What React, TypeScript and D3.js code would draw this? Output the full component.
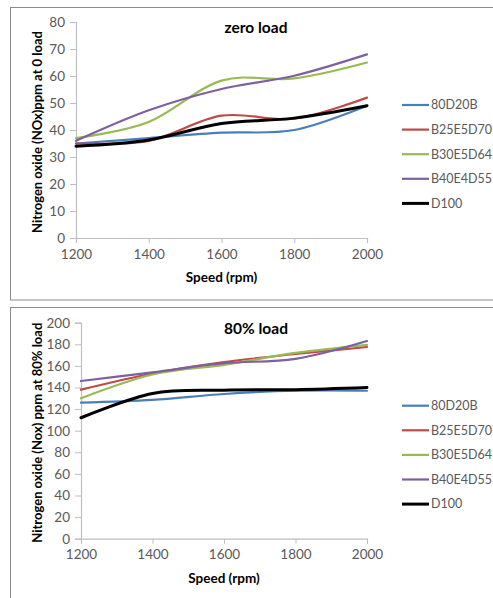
import React, { useEffect, useRef } from 'react';
import * as d3 from 'd3';

const speeds = [1200, 1400, 1600, 1800, 2000];
const seriesNames = ['80D20B', 'B25E5D70', 'B30E5D64', 'B40E4D55', 'D100'];
const seriesColors = ['#4a7ebb', '#be4b48', '#98b954', '#7d60a0', '#000000'];

// zero load
const zero80D20B = [35, 37, 39, 40, 49];
const zeroB25E5D70 = [35, 36, 45.3, 44.2, 52];
const zeroB30E5D64 = [37, 43, 58.3, 59.1, 65];
const zeroB40E4D55 = [36, 47.3, 55.2, 60.1, 68];
const zeroD100 = [34, 36.3, 42.4, 44.4, 49];

// 80% load
const full80D20B = [126, 128.5, 134, 137, 137];
const fullB25E5D70 = [138, 153, 163.5, 171, 177.5];
const fullB30E5D64 = [130, 152, 161, 172, 179.5];
const fullB40E4D55 = [146, 154, 162.5, 166.5, 183];
const fullD100 = [112, 134.5, 137.5, 138, 140];

const zeroTicks = [0, 10, 20, 30, 40, 50, 60, 70, 80];
const fullTicks = [0, 20, 40, 60, 80, 100, 120, 140, 160, 180, 200];

const font = 'Lato, "Open Sans", sans-serif';

type PanelProps = {
  top: number;
  title: string;
  yLabel: string;
  values: number[][];
  yTicks: number[];
  left: number;
  plotTop: number;
  plotBottom: number;
};

function Panel({ top, title, yLabel, values, yTicks, left, plotTop, plotBottom }: PanelProps) {
  const xAxisRef = useRef<SVGGElement>(null);
  const yAxisRef = useRef<SVGGElement>(null);

  const x = d3.scaleLinear().domain([1200, 2000]).range([left, 367]);
  const y = d3.scaleLinear().domain([0, yTicks[yTicks.length - 1]]).range([plotBottom, plotTop]);
  const line = d3.line<number>()
    .x((_, i) => x(speeds[i]))
    .y(d => y(d))
    .curve(d3.curveCardinal.tension(0));

  useEffect(() => {
    const xa = d3.select(xAxisRef.current!)
      .call(d3.axisBottom(x).tickValues(speeds).tickSize(5).tickPadding(6).tickFormat(d3.format('d')));
    const ya = d3.select(yAxisRef.current!)
      .call(d3.axisLeft(y).tickValues(yTicks).tickSize(6).tickPadding(5).tickFormat(d3.format('d')));
    [xa, ya].forEach(a => {
      a.select('.domain').attr('stroke', '#bfbfbf').attr('stroke-width', 1.2);
      a.selectAll('.tick line').attr('stroke', '#bfbfbf');
      a.selectAll('.tick text')
        .attr('fill', '#595959')
        .style('font-family', font)
        .style('font-size', '13.5px');
    });
  });

  const cx = 256;
  return (
    <g transform={`translate(0, ${top})`}>
      <g ref={xAxisRef} transform={`translate(0, ${plotBottom})`} />
      <g ref={yAxisRef} transform={`translate(${left}, 0)`} />
      {values.map((v, i) => (
        <path key={seriesNames[i]} d={line(v) || ''} fill="none"
          stroke={seriesColors[i]} strokeWidth={i === 4 ? 3 : 2.2} strokeLinecap="round" />
      ))}
      <text x={cx} y={plotTop + 11} textAnchor="middle" fontFamily={font} fontWeight="bold"
        fontSize={15.5} fill="#000">{title}</text>
      <text x={(left + 367) / 2} y={plotBottom + 44} textAnchor="middle" fontFamily={font}
        fontWeight="bold" fontSize={13.5} fill="#000">Speed (rpm)</text>
      <text transform={`translate(42, ${(plotTop + plotBottom) / 2 + 2}) rotate(-90)`} textAnchor="middle"
        fontFamily={font} fontWeight="bold" fontSize={13} fill="#000">{yLabel}</text>
      {seriesNames.map((name, i) => {
        const ly = plotTop + 83 + i * 24.6;
        return (
          <g key={name}>
            <line x1={402} x2={429} y1={ly} y2={ly} stroke={seriesColors[i]} strokeWidth={i === 4 ? 3 : 2.2} />
            <text x={431} y={ly} dy="0.35em" fontFamily={font} fontSize={12.5} fill="#595959">{name}</text>
          </g>
        );
      })}
    </g>
  );
}

export default function App() {
  return (
    <svg width={493} height={598} style={{ position: 'absolute', left: 0, top: 0, background: '#fff' }}>
      <rect x={10.5} y={7.5} width={500} height={292.5} fill="none" stroke="#8c8c8c" strokeWidth={1} />
      <rect x={10.5} y={307.5} width={500} height={300} fill="none" stroke="#8c8c8c" strokeWidth={1} />
      <Panel top={0} title="zero load" yLabel="Nitrogen oxide (NOx)ppm at 0 load"
        values={[zero80D20B, zeroB25E5D70, zeroB30E5D64, zeroB40E4D55, zeroD100]}
        yTicks={zeroTicks} left={76} plotTop={22} plotBottom={238} />
      <Panel top={300} title="80% load" yLabel="Nitrogen oxide (Nox) ppm at 80% load"
        values={[full80D20B, fullB25E5D70, fullB30E5D64, fullB40E4D55, fullD100]}
        yTicks={fullTicks} left={81} plotTop={22.7} plotBottom={238.7} />
    </svg>
  );
}
